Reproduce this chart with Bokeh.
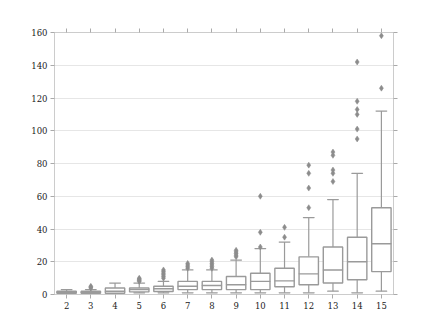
from bokeh.plotting import figure
from bokeh.models import LinearAxis, FixedTicker, Range1d
from bokeh.embed import file_html
from bokeh.resources import INLINE

categories = [2, 3, 4, 5, 6, 7, 8, 9, 10, 11, 12, 13, 14, 15]
lower = [0, 0, 0, 1, 1, 1, 1, 1, 1, 1, 1, 2, 1, 2]
q1 = [0.8, 0.8, 0.8, 1.6, 1.8, 3, 3, 3, 3, 4.7, 6, 7, 9, 14]
median = [1.3, 1.3, 2, 3, 3.5, 5, 5.5, 6, 8, 8.3, 12.6, 15, 20, 31]
q3 = [2, 2, 4, 4, 5, 8, 8, 11, 13, 16, 23, 29, 35, 53]
upper = [3, 3, 7, 7, 8, 15, 15, 21, 28, 32, 47, 58, 74, 112]
outliers = [
    [],
    [4, 4.5, 5],
    [],
    [8, 8.5, 9, 9.5, 10],
    [10, 11, 12, 13, 14, 15],
    [16, 17, 18, 19],
    [16, 17, 18, 19, 20, 21],
    [23, 24, 25, 26, 27],
    [29, 38, 60],
    [35, 41],
    [53, 65, 74, 79],
    [69, 74, 76, 85, 87],
    [95, 101, 110, 113, 118, 142],
    [126, 158],
]
y_ticks = [0, 20, 40, 60, 80, 100, 120, 140, 160]

FONT = "DejaVu Serif"
FS = "8.5px"
BOX_COL = "#9a9a9a"
AX_COL = "#cccccc"

p = figure(frame_width=339, frame_height=262, output_backend="svg",
           toolbar_location=None,
           x_range=Range1d(categories[0] - 0.5, categories[-1] + 0.5),
           y_range=Range1d(y_ticks[0], y_ticks[-1]),
           min_border_left=54, min_border_top=32, min_border_right=27,
           min_border_bottom=14)
p.background_fill_color = "white"
p.outline_line_color = AX_COL
p.xgrid.grid_line_color = None
p.ygrid.grid_line_color = "#e6e6e6"
p.ygrid.ticker = FixedTicker(ticks=y_ticks)

def style_axis(ax, labels=True):
    ax.axis_line_color = AX_COL
    ax.major_tick_line_color = "#aaaaaa"
    ax.minor_tick_line_color = None
    ax.major_tick_in = 0
    ax.major_tick_out = 4
    ax.major_label_text_font = FONT
    ax.major_label_text_font_size = FS
    ax.major_label_text_color = "#222222" if labels else None
    ax.major_label_standoff = 3

p.xaxis.ticker = FixedTicker(ticks=categories)
p.yaxis.ticker = FixedTicker(ticks=y_ticks)
style_axis(p.xaxis[0])
style_axis(p.yaxis[0])

top = LinearAxis(ticker=FixedTicker(ticks=categories))
style_axis(top, labels=False)
top.major_label_text_font_size = "0px"
p.add_layout(top, "above")
right = LinearAxis(ticker=FixedTicker(ticks=y_ticks))
style_axis(right, labels=False)
right.major_label_text_font_size = "0px"
p.add_layout(right, "right")

# whiskers
p.segment(categories, upper, categories, q3, line_color=BOX_COL, line_width=1.2)
p.segment(categories, lower, categories, q1, line_color=BOX_COL, line_width=1.2)
# caps
p.rect(categories, upper, width=0.45, height=0.0001, fill_color=None,
       line_color=BOX_COL, line_width=1.2)
p.rect(categories, lower, width=0.45, height=0.0001, fill_color=None,
       line_color=BOX_COL, line_width=1.2)
# boxes
p.vbar(x=categories, bottom=q1, top=q3, width=0.8, fill_color="white",
       line_color=BOX_COL, line_width=1.4)
# medians
p.rect(categories, median, width=0.8, height=0.0001, fill_color=None,
       line_color=BOX_COL, line_width=1.4)

ox = [c for c, vals in zip(categories, outliers) for _ in vals]
oy = [v for vals in outliers for v in vals]
p.scatter(ox, oy, marker="diamond", size=6, fill_color="#8c8c8c",
          line_color="#8c8c8c", line_width=0.5)

open("out.html", "w").write(file_html(p, INLINE))
